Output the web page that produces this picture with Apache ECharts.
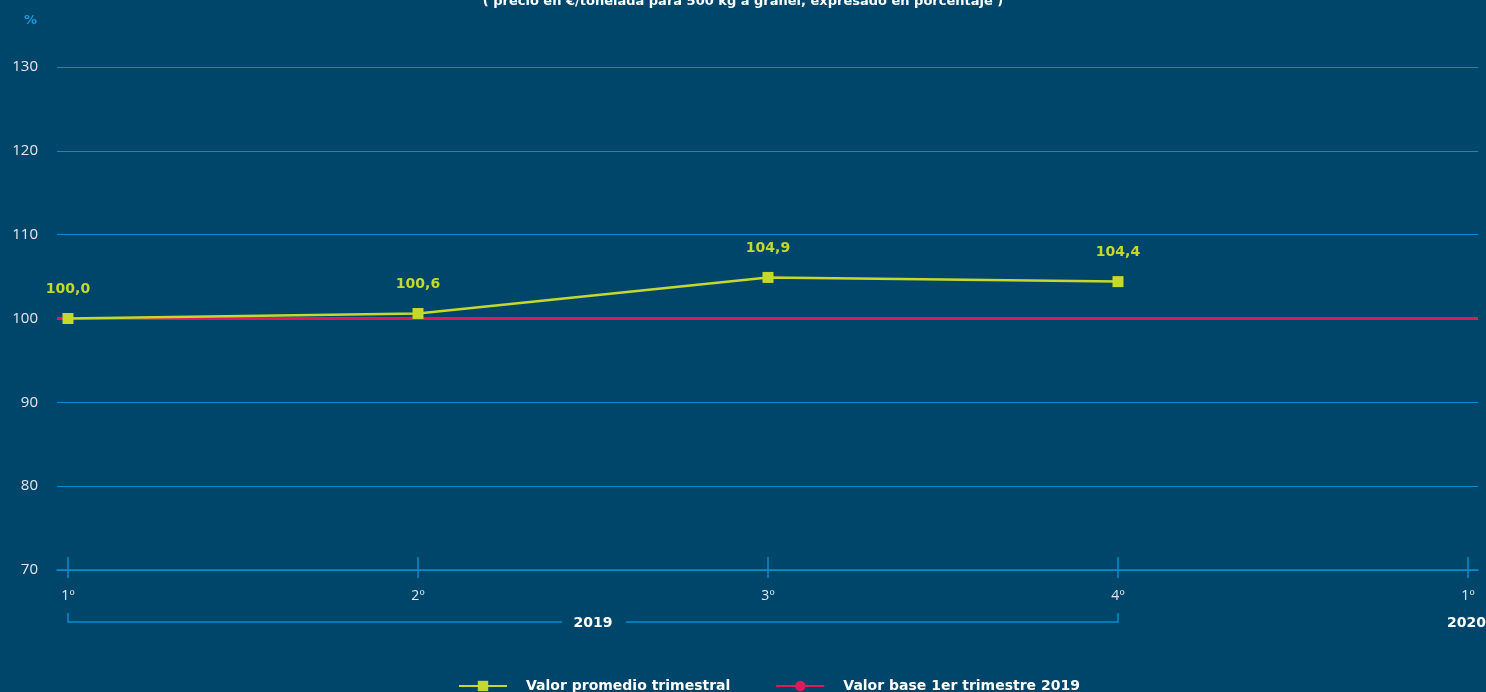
<!DOCTYPE html>
<html>
<head>
<meta charset="utf-8">
<script src="https://cdn.jsdelivr.net/npm/echarts@6/dist/echarts.min.js"></script>
<style>
  html, body { margin: 0; padding: 0; background: #00466a; }
  #chart { width: 1486px; height: 692px; }
</style>
</head>
<body>
<div id="chart"></div>
<script>
const quarters = ['1º', '2º', '3º', '4º', '1º']
const quarterPos = [0, 1, 2, 3, 4]
const promedio = [100.0, 100.6, 104.9, 104.4]
const baseValue = 100
const yTicks = [70, 80, 90, 100, 110, 120, 130]
const years = ['2019', '2020']

const blue = '#0a8ccc'
const green = '#c5d92d'
const pink = '#e3185c'
const font = "'Open Sans', sans-serif"
const bold = "'DejaVu Sans', sans-serif"

const chart = echarts.init(document.getElementById('chart'))

const xBase = {
    type: 'value',
    min: -0.0314,
    max: 4.0286,
    splitLine: { show: false },
}

const option = {
    backgroundColor: '#00466a',
    animation: false,
    title: {
        text: '( precio en €/tonelada para 500 kg a granel, expresado en porcentaje )',
        left: 'center',
        top: -10,
        textStyle: { color: '#ffffff', fontSize: 13, fontWeight: 'bold', fontFamily: bold }
    },
    grid: { left: 57, right: 8, top: 67, bottom: 122 },
    legend: {
        left: 453,
        top: 674,
        itemWidth: 48,
        itemHeight: 13,
        itemGap: 45,
        textStyle: { color: '#ffffff', fontSize: 14, fontWeight: 'bold', fontFamily: bold, padding: [0, 0, 0, 14] },
        data: ['Valor promedio trimestral', 'Valor base 1er trimestre 2019']
    },
    xAxis: [
        Object.assign({}, xBase, {
            position: 'bottom',
            axisLine: { show: true, lineStyle: { color: blue, width: 1.5 } },
            axisTick: { show: true, customValues: quarterPos, length: 8, lineStyle: { color: blue, width: 1.5 } },
            axisLabel: {
                customValues: quarterPos,
                color: '#e4e9ee',
                fontSize: 14,
                fontFamily: font,
                margin: 19,
                formatter: (v) => quarters[Math.round(v)]
            }
        }),
        Object.assign({}, xBase, {
            position: 'bottom',
            axisLine: { show: false },
            axisTick: { show: true, inside: true, customValues: quarterPos, length: 13, lineStyle: { color: blue, width: 1.5 } },
            axisLabel: { show: false }
        })
    ],
    yAxis: {
        type: 'value',
        min: yTicks[0],
        max: yTicks[yTicks.length - 1],
        interval: 10,
        name: '%',
        nameGap: 40,
        nameTextStyle: { color: '#1a9ad8', fontSize: 13, fontWeight: 'bold', fontFamily: bold, align: 'right', padding: [0, 31, 0, 0] },
        axisLine: { show: false },
        axisTick: { show: false },
        axisLabel: { color: '#e4e9ee', fontSize: 15, fontFamily: font, margin: 19 },
        splitLine: { lineStyle: { color: blue, width: 1.2 } }
    },
    series: [
        {
            name: 'Valor base 1er trimestre 2019',
            type: 'line',
            symbol: 'circle',
            symbolSize: 12,
            itemStyle: { color: pink },
            lineStyle: { color: pink, width: 3 },
            data: [],
            markLine: {
                silent: true,
                symbol: 'none',
                label: { show: false },
                lineStyle: { color: pink, width: 3, type: 'solid' },
                data: [{ yAxis: baseValue }]
            }
        },
        {
            name: 'Valor promedio trimestral',
            type: 'line',
            symbol: 'rect',
            symbolSize: 11,
            itemStyle: { color: green },
            lineStyle: { color: green, width: 2.5 },
            label: {
                show: true,
                position: 'top',
                distance: 17,
                color: green,
                fontSize: 14,
                fontWeight: 'bold',
                fontFamily: bold,
                formatter: (p) => p.value[1].toFixed(1).replace('.', ',')
            },
            data: promedio.map((v, i) => [quarterPos[i], v]),
            z: 5
        }
    ]
}

chart.setOption(option)

// bracket for the year under the quarter labels
const x0 = chart.convertToPixel({ xAxisIndex: 0 }, quarterPos[0])
const x3 = chart.convertToPixel({ xAxisIndex: 0 }, quarterPos[3])
const yAx = chart.convertToPixel({ yAxisIndex: 0 }, yTicks[0])
const yb = yAx + 52
const mid = (x0 + x3) / 2
chart.setOption({
    graphic: [
        {
            type: 'polyline',
            shape: { points: [[x0, yb - 9], [x0, yb], [mid - 31, yb]] },
            style: { stroke: blue, lineWidth: 1.5, fill: null }
        },
        {
            type: 'polyline',
            shape: { points: [[mid + 33, yb], [x3, yb], [x3, yb - 9]] },
            style: { stroke: blue, lineWidth: 1.5, fill: null }
        },
        {
            type: 'text',
            x: mid, y: yb + 1,
            style: { text: years[0], fill: '#ffffff', font: "bold 14px 'DejaVu Sans', sans-serif", textAlign: 'center', textVerticalAlign: 'middle' }
        },
        {
            type: 'text',
            x: 1486, y: yb + 1,
            style: { text: years[1], fill: '#ffffff', font: "bold 14px 'DejaVu Sans', sans-serif", textAlign: 'right', textVerticalAlign: 'middle' }
        }
    ]
})
</script>
</body>
</html>
